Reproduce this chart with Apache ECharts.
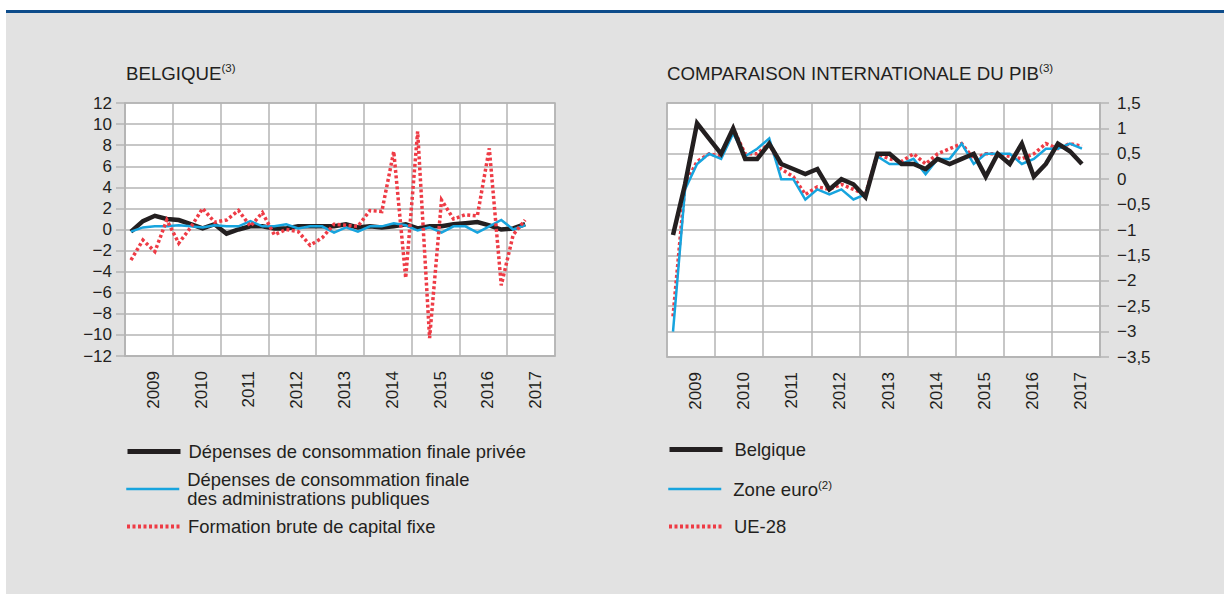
<!DOCTYPE html>
<html>
<head>
<meta charset="utf-8">
<script src="https://cdn.jsdelivr.net/npm/echarts@6/dist/echarts.min.js"></script>
<style>
html,body{margin:0;padding:0;background:#fff;width:1224px;height:594px;overflow:hidden;}
#bg{position:absolute;left:6px;top:13px;width:1218px;height:581px;background:#e2e2e2;}
#rule{position:absolute;left:6px;top:10px;width:1218px;height:3px;background:#0d4c8b;}
#chart{position:absolute;left:0;top:0;width:1224px;height:594px;}
</style>
</head>
<body>
<div id="bg"></div>
<div id="rule"></div>
<div id="chart"></div>
<script>
// ---- data ----
const years = ['2009','2010','2011','2012','2013','2014','2015','2016','2017'];
const quarterNames = ['T1','T2','T3','T4'];

// Belgique (quarterly, 2009T1 - 2017T2)
const privateConsumption = [-0.2, 0.8, 1.3, 1.0, 0.9, 0.5, 0.1, 0.5, -0.4, 0.0, 0.3, 0.3, 0.1, 0.1, 0.3, 0.3,
  0.3, 0.3, 0.5, 0.2, 0.3, 0.2, 0.3, 0.5, 0.1, 0.3, 0.3, 0.5, 0.6, 0.7, 0.4, 0.0, 0.1, 0.5];
const publicConsumption = [-0.2, 0.2, 0.3, 0.3, 0.4, 0.3, 0.2, 0.4, 0.3, 0.3, 0.8, 0.3, 0.3, 0.5, 0.1, 0.3,
  0.3, -0.3, 0.2, -0.2, 0.3, 0.3, 0.6, 0.4, -0.1, 0.2, -0.3, 0.3, 0.3, -0.3, 0.3, 0.9, 0.0, 0.4];
const grossFixedCapital = [-2.9, -1.0, -2.1, 0.9, -1.3, 0.2, 2.0, 0.7, 0.9, 1.8, 0.3, 1.6, -0.5, 0.0, -0.2, -1.5,
  -0.8, 0.5, 0.4, 0.3, 1.8, 1.7, 7.4, -4.6, 9.3, -10.3, 2.8, 1.0, 1.4, 1.3, 7.7, -5.3, -0.5, 0.9];

// Comparaison internationale du PIB (quarterly, 2009T1 - 2017T3)
const gdpBelgium = [-1.1, -0.1, 1.1, 0.8, 0.5, 1.0, 0.4, 0.4, 0.7, 0.3, 0.2, 0.1, 0.2, -0.2, 0.0, -0.1, -0.35,
  0.5, 0.5, 0.3, 0.3, 0.2, 0.4, 0.3, 0.4, 0.5, 0.05, 0.5, 0.3, 0.7, 0.05, 0.3, 0.7, 0.55, 0.3];
const gdpEuroArea = [-3.0, -0.2, 0.3, 0.5, 0.4, 0.9, 0.45, 0.6, 0.8, 0.0, 0.0, -0.4, -0.2, -0.3, -0.2, -0.4, -0.3,
  0.45, 0.3, 0.3, 0.4, 0.1, 0.4, 0.4, 0.7, 0.3, 0.5, 0.5, 0.5, 0.3, 0.4, 0.6, 0.6, 0.7, 0.6];
const gdpEU28 = [-2.7, -0.1, 0.35, 0.5, 0.45, 1.0, 0.5, 0.5, 0.7, 0.2, 0.05, -0.3, -0.15, -0.2, -0.1, -0.2, -0.3,
  0.5, 0.4, 0.35, 0.5, 0.3, 0.5, 0.6, 0.7, 0.4, 0.5, 0.5, 0.45, 0.4, 0.5, 0.7, 0.6, 0.7, 0.65];

const leftNames = ['Dépenses de consommation finale privée',
  'Dépenses de consommation finale\ndes administrations publiques',
  'Formation brute de capital fixe'];
const rightNames = ['Belgique', 'Zone euro', 'UE-28'];

// ---- options ----
const quarters = [];
years.forEach(y => quarterNames.forEach(q => quarters.push(y + ' ' + q)));

const FONT = '"Liberation Sans", Arial, Helvetica, sans-serif';
const TXT = '#231f20';
const GRID = '#b4b4b4';
const BLACK = '#231f20', BLUE = '#17a4de', RED = '#ee3b45';

function minus(v) { return v < 0 ? '\u2212' + Math.abs(v) : String(v); }
function minusComma(v) { return (v < 0 ? '\u2212' : '') + String(Math.abs(v)).replace('.', ','); }

function quarterAxis(gi) {
  return { type: 'category', gridIndex: gi, data: quarters, boundaryGap: true, show: false };
}
function yearAxis(gi) {
  return {
    type: 'category', gridIndex: gi, data: years, boundaryGap: true, position: 'bottom',
    axisLine: { show: true, lineStyle: { color: GRID, width: 1.5 } },
    axisTick: { show: false },
    splitLine: { show: true, interval: 0, lineStyle: { color: GRID, width: 1.5 } },
    axisLabel: { interval: 0, rotate: 90, margin: 15, fontSize: 17, color: TXT, fontFamily: FONT,
      verticalAlign: 'top', lineHeight: 9 }
  };
}
function lineSeries(name, data, xi, yi, color, width, type, z) {
  return {
    name, type: 'line', data, xAxisIndex: xi, yAxisIndex: yi, symbol: 'none', z,
    lineStyle: { color, width, type: type || 'solid', cap: 'butt', join: 'miter' },
    itemStyle: { color }, animation: false, emphasis: { disabled: true }
  };
}
function legendItem(name, left, top, width, gap, fmt) {
  return {
    data: [name], left, top, orient: 'vertical', selectedMode: false, padding: 0,
    itemWidth: 53, itemHeight: 14, itemGap: 0,
    itemStyle: { opacity: 0 },
    lineStyle: { width: width },
    textStyle: {
      fontSize: 18.4, color: TXT, fontFamily: FONT, lineHeight: 19, padding: [0, 0, 0, gap],
      rich: {
        a: { fontSize: 18.6, color: TXT, fontFamily: FONT, lineHeight: 20 },
        s: { fontSize: 11.5, color: TXT, fontFamily: FONT, lineHeight: 20, verticalAlign: 'top' }
      }
    },
    formatter: fmt || (n => n)
  };
}

const titleRich = {
  a: { fontSize: 18.7, color: TXT, fontFamily: FONT, lineHeight: 22, fontWeight: 'normal' },
  s: { fontSize: 11.5, color: TXT, fontFamily: FONT, lineHeight: 22, verticalAlign: 'top', fontWeight: 'normal' }
};

const option = {
  backgroundColor: 'transparent',
  animation: false,
  title: [
    { text: '{a|BELGIQUE}{s|(3)}', left: 126, top: 62, padding: 0, textStyle: { rich: titleRich } },
    { text: '{a|COMPARAISON INTERNATIONALE DU PIB}{s|(3)}', left: 667, top: 62, padding: 0, textStyle: { rich: titleRich } }
  ],
  grid: [
    { left: 125, top: 103, width: 430, height: 253, show: true, backgroundColor: '#fff', borderColor: GRID, borderWidth: 1.5 },
    { left: 667, top: 103, width: 433, height: 254, show: true, backgroundColor: '#fff', borderColor: GRID, borderWidth: 1.5 }
  ],
  xAxis: [quarterAxis(0), yearAxis(0), quarterAxis(1), yearAxis(1)],
  yAxis: [
    {
      type: 'value', gridIndex: 0, min: -12, max: 12, interval: 2,
      axisLine: { show: true, lineStyle: { color: GRID, width: 1.5 } },
      axisTick: { show: true, length: 9, lineStyle: { color: GRID, width: 1.5 } },
      splitLine: { show: true, lineStyle: { color: GRID, width: 1.5 } },
      axisLabel: { margin: 13, fontSize: 17, color: TXT, fontFamily: FONT, formatter: minus }
    },
    {
      type: 'value', gridIndex: 1, position: 'right', min: -3.5, max: 1.5, interval: 0.5,
      axisLine: { show: true, lineStyle: { color: GRID, width: 1.5 } },
      axisTick: { show: true, length: 9, lineStyle: { color: GRID, width: 1.5 } },
      splitLine: { show: true, lineStyle: { color: GRID, width: 1.5 } },
      axisLabel: { margin: 17, fontSize: 17, color: TXT, fontFamily: FONT, formatter: minusComma }
    }
  ],
  legend: [
    legendItem(leftNames[0], 125, 442, 5, 3),
    legendItem(leftNames[1], 125, 470, 2.5, 3),
    legendItem(leftNames[2], 125, 517, 4, 3),
    legendItem(rightNames[0], 667, 440, 5, 7),
    legendItem(rightNames[1], 667, 479, 2.5, 7, n => '{a|' + n + '}{s|(2)}'),
    legendItem(rightNames[2], 667, 517, 4, 7)
  ],
  series: [
    lineSeries(leftNames[0], privateConsumption, 0, 0, BLACK, 4.5, 'solid', 2),
    lineSeries(leftNames[1], publicConsumption, 0, 0, BLUE, 2.5, 'solid', 3),
    lineSeries(leftNames[2], grossFixedCapital, 0, 0, RED, 3.5, [3, 2.5], 4),
    lineSeries(rightNames[2], gdpEU28, 2, 1, RED, 3.5, [3, 2.5], 2),
    lineSeries(rightNames[1], gdpEuroArea, 2, 1, BLUE, 2.5, 'solid', 3),
    lineSeries(rightNames[0], gdpBelgium, 2, 1, BLACK, 4.5, 'solid', 4)
  ]
};

const chart = echarts.init(document.getElementById('chart'), null, { renderer: 'svg', width: 1224, height: 594 });
chart.setOption(option);
</script>
</body>
</html>
